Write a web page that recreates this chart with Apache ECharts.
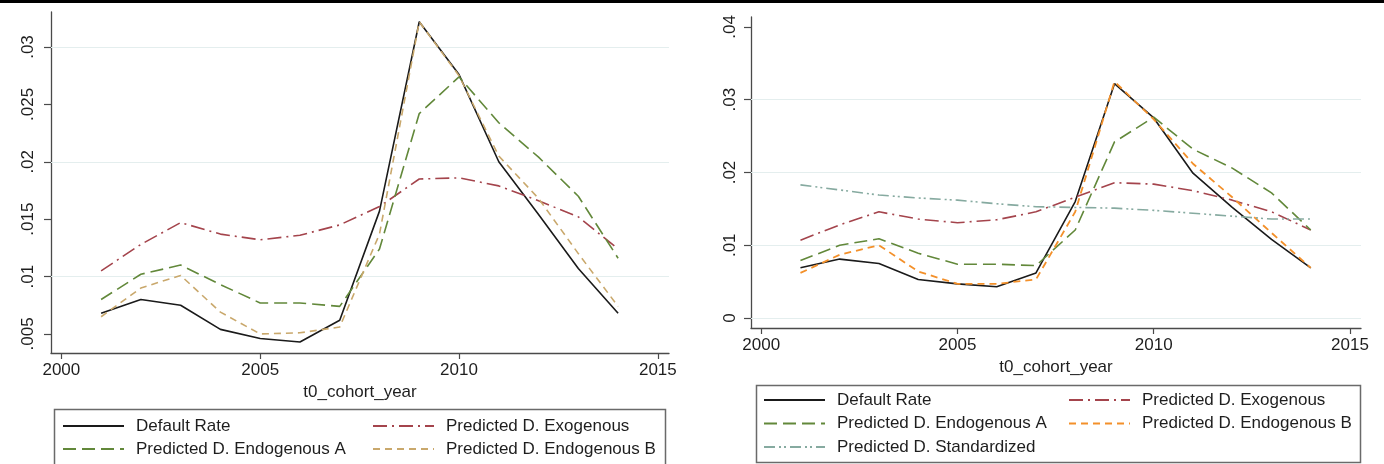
<!DOCTYPE html>
<html>
<head>
<meta charset="utf-8">
<script src="https://cdn.jsdelivr.net/npm/echarts@6/dist/echarts.min.js"></script>
<style>
  html, body { margin: 0; padding: 0; background: #fff; }
  #chart { width: 1384px; height: 464px; }
</style>
</head>
<body>
<div id="chart"></div>
<script>
// ---- data ----
const years = [2001, 2002, 2003, 2004, 2005, 2006, 2007, 2008, 2009, 2010, 2011, 2012, 2013, 2014];

// left panel
const defaultRateL = [0.0068, 0.0080, 0.0075, 0.0054, 0.0046, 0.0043, 0.0062, 0.0157, 0.0322, 0.0276, 0.0200, 0.0154, 0.0107, 0.0068];
const exogenousL   = [0.0105, 0.0128, 0.0147, 0.0137, 0.0132, 0.0136, 0.0145, 0.0161, 0.0185, 0.0186, 0.0179, 0.0166, 0.0152, 0.0124];
const endoAL       = [0.0080, 0.0102, 0.0110, 0.0093, 0.0077, 0.0077, 0.0074, 0.0124, 0.0242, 0.0274, 0.0234, 0.0204, 0.0170, 0.0116];
const endoBL       = [0.0065, 0.0090, 0.0101, 0.0069, 0.0050, 0.0051, 0.0056, 0.0137, 0.0322, 0.0275, 0.0205, 0.0168, 0.0120, 0.0074];

// right panel
const defaultRateR = [0.0069, 0.0081, 0.0075, 0.0053, 0.0047, 0.0043, 0.0062, 0.0160, 0.0322, 0.0275, 0.0199, 0.0152, 0.0108, 0.0069];
const exogenousR   = [0.0107, 0.0128, 0.0146, 0.0136, 0.0131, 0.0135, 0.0146, 0.0166, 0.0186, 0.0184, 0.0175, 0.0162, 0.0146, 0.0121];
const endoAR       = [0.0079, 0.0100, 0.0109, 0.0089, 0.0074, 0.0074, 0.0072, 0.0121, 0.0242, 0.0276, 0.0232, 0.0206, 0.0172, 0.0121];
const endoBR       = [0.0062, 0.0087, 0.0100, 0.0064, 0.0047, 0.0047, 0.0053, 0.0146, 0.0325, 0.0273, 0.0212, 0.0166, 0.0117, 0.0069];
const standardR    = [0.0183, 0.0176, 0.0169, 0.0165, 0.0162, 0.0157, 0.0153, 0.0152, 0.0151, 0.0148, 0.0144, 0.0140, 0.0136, 0.0136];

// ticks
const xTicks  = [2000, 2005, 2010, 2015];
const yTicksL = [0.005, 0.01, 0.015, 0.02, 0.025, 0.03];
const yGridL  = [0.005, 0.01, 0.015, 0.02, 0.025, 0.03];
const yTicksR = [0, 0.01, 0.02, 0.03, 0.04];
const yGridR  = [0, 0.01, 0.02, 0.03];

const names = {
  dr: 'Default Rate',
  ex: 'Predicted D. Exogenous',
  ea: 'Predicted D. Endogenous A',
  eb: 'Predicted D. Endogenous B',
  st: 'Predicted D. Standardized'
};
const R = ' [R]';

// ---- style ----
const FONT = '"Liberation Sans", Arial, sans-serif';
const TXT = '#1e1e1e';
const AX = '#4a4a4a';
const GRID = '#e4eeee';
const C = {
  dr: '#1a1a1a',
  ex: '#a4444c',
  ea: '#62883a',
  ebL: '#c9a86c',
  ebR: '#f3902a',
  st: '#86aaa0'
};
const D = {
  dr: 'solid',
  ex: [14, 5, 2, 5],
  ea: [13, 6],
  eb: [7, 5],
  st: [11, 4, 2, 3, 2, 4]
};

function pairs(arr) { return years.map((y, i) => [y, arr[i]]); }
function fmtY(v) {
  if (Math.abs(v) < 1e-12) return '0';
  return String(+v.toFixed(4)).replace(/^0\./, '.');
}

function mk(name, arr, idx, color, dash, width, grid) {
  const s = {
    name: name,
    type: 'line',
    xAxisIndex: idx,
    yAxisIndex: idx,
    data: pairs(arr),
    symbol: 'none',
    smooth: false,
    lineStyle: { color: color, type: dash, width: width },
    itemStyle: { color: color },
    emphasis: { disabled: true },
    silent: true
  };
  if (grid) {
    s.markLine = {
      silent: true,
      symbol: 'none',
      z: 1,
      label: { show: false },
      emphasis: { disabled: true },
      lineStyle: { color: GRID, width: 1.2, type: 'solid' },
      data: grid.map(v => ({ yAxis: v }))
    };
  }
  return s;
}

function xAxisCfg(idx, gap) {
  return {
    type: 'value', gridIndex: idx, min: 1999.74, max: 2015.28,
    name: 't0_cohort_year', nameLocation: 'middle', nameGap: gap,
    nameTextStyle: { fontFamily: FONT, fontSize: 17, color: TXT },
    axisLine: { show: true, onZero: false, lineStyle: { color: AX, width: 1.3 } },
    axisTick: { show: true, length: 6, lineStyle: { color: AX, width: 1.2 }, customValues: xTicks },
    axisLabel: { show: true, fontFamily: FONT, fontSize: 17, color: TXT, margin: 9, customValues: xTicks,
                 formatter: v => String(Math.round(v)) },
    splitLine: { show: false }
  };
}
function yAxisCfg(idx, min, max, ticks, margin) {
  return {
    type: 'value', gridIndex: idx, min: min, max: max,
    axisLine: { show: true, onZero: false, lineStyle: { color: AX, width: 1.3 } },
    axisTick: { show: true, length: 7, lineStyle: { color: AX, width: 1.2 }, customValues: ticks },
    axisLabel: { show: true, rotate: 90, fontFamily: FONT, fontSize: 17, color: TXT, margin: margin,
                 customValues: ticks, formatter: fmtY },
    splitLine: { show: false }
  };
}

const legendBase = {
  orient: 'vertical',
  itemWidth: 61,
  itemHeight: 14,
  selectedMode: false,
  padding: 0,
  itemStyle: { opacity: 0 },
  textStyle: { fontFamily: FONT, fontSize: 17, color: TXT, lineHeight: 18, padding: [0, 0, 0, 7] },
  formatter: n => n.replace(R, '')
};

const option = {
  animation: false,
  backgroundColor: '#ffffff',
  grid: [
    { left: 51, top: 12, width: 618, height: 341 },
    { left: 751, top: 17, width: 610, height: 311 }
  ],
  xAxis: [xAxisCfg(0, 27), xAxisCfg(1, 29)],
  yAxis: [
    yAxisCfg(0, 0.00334, 0.03305, yTicksL, 14),
    yAxisCfg(1, -0.00137, 0.04137, yTicksR, 12)
  ],
  legend: [
    Object.assign({}, legendBase, { left: 62, top: 417, itemGap: 5, data: [names.dr, names.ea] }),
    Object.assign({}, legendBase, { left: 372, top: 417, itemGap: 5, data: [names.ex, names.eb] }),
    Object.assign({}, legendBase, { left: 763, top: 391, itemGap: 5.5, data: [names.dr + R, names.ea + R, names.st + R] }),
    Object.assign({}, legendBase, { left: 1068, top: 391, itemGap: 5.5, data: [names.ex + R, names.eb + R] })
  ],
  graphic: [
    { type: 'rect', left: 0, top: 0, shape: { width: 1384, height: 3 }, style: { fill: '#000' }, silent: true },
    { type: 'rect', shape: { x: 54.5, y: 409.5, width: 611, height: 80 }, style: { fill: 'none', stroke: '#6a6a6a', lineWidth: 1.5 }, silent: true },
    { type: 'rect', shape: { x: 756.5, y: 385.5, width: 604, height: 77 }, style: { fill: 'none', stroke: '#6a6a6a', lineWidth: 1.5 }, silent: true }
  ],
  series: [
    mk(names.dr, defaultRateL, 0, C.dr, D.dr, 1.6, yGridL),
    mk(names.ex, exogenousL, 0, C.ex, D.ex, 1.6),
    mk(names.ea, endoAL, 0, C.ea, D.ea, 1.6),
    mk(names.eb, endoBL, 0, C.ebL, D.eb, 1.6),

    mk(names.dr + R, defaultRateR, 1, C.dr, D.dr, 1.6, yGridR),
    mk(names.ex + R, exogenousR, 1, C.ex, D.ex, 1.6),
    mk(names.ea + R, endoAR, 1, C.ea, D.ea, 1.6),
    mk(names.eb + R, endoBR, 1, C.ebR, D.eb, 1.8),
    mk(names.st + R, standardR, 1, C.st, D.st, 1.6)
  ]
};

const chart = echarts.init(document.getElementById('chart'), null, { renderer: 'canvas' });
chart.setOption(option);
</script>
</body>
</html>
